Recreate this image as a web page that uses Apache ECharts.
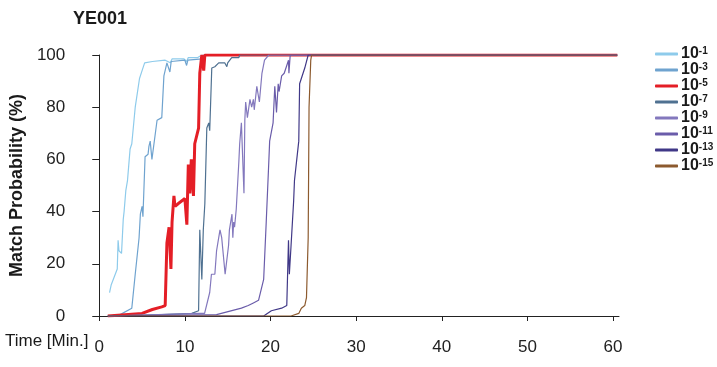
<!DOCTYPE html>
<html>
<head>
<meta charset="utf-8">
<script src="https://cdn.jsdelivr.net/npm/echarts@6/dist/echarts.min.js"></script>
<style>html,body{margin:0;padding:0;background:#fff}#c{width:717px;height:367px}</style>
</head>
<body>
<div id="c"></div>
<script>
const title = 'YE001';
const xTicks = [0, 10, 20, 30, 40, 50, 60];
const yTicks = [0, 20, 40, 60, 80, 100];
const names = ['10^-1', '10^-3', '10^-5', '10^-7', '10^-9', '10^-11', '10^-13', '10^-15'];
const colors = ['#8ecbeb', '#6fa3cf', '#e41e26', '#4f7191', '#8378bd', '#6a5caa', '#403887', '#8c5a2e'];

const s1 = [[1.2,9],[1.4,12],[2.1,18],[2.2,29],[2.3,25],[2.6,24],[2.8,37],[2.9,40],[3.1,48],[3.3,52],[3.5,60],[3.6,64],[3.8,66],[4.2,80],[4.7,91],[5.0,94],[5.3,97],[6.2,97.5],[7.7,98],[8.3,97],[8.5,98.5],[9.9,98.5],[10.2,97.5],[10.4,99],[11.5,99],[12,100],[60.5,100]];
const s3 = [[1,0],[2.4,0.5],[2.7,1],[3.8,3],[4.2,16],[4.65,30],[4.8,39],[5.0,42],[5.1,38],[5.35,61],[5.7,62],[5.8,65],[5.95,67],[6.15,60],[6.75,75],[7.3,76],[7.55,92],[7.9,97],[8.25,93.5],[8.4,97.5],[10,98],[10.2,96],[10.35,98],[12,98.5],[12.2,100],[60.5,100]];
const s5 = [[1,0],[3,0.5],[5,1],[6.2,2.5],[7.3,3.5],[7.7,4],[7.85,4.5],[7.9,28],[8.15,34],[8.37,18],[8.5,36],[8.72,46],[8.85,42],[9.2,43],[10,45],[10.23,35],[10.4,58],[10.58,47],[10.75,60],[11.0,46],[11.15,66],[11.6,72],[11.74,93],[11.98,100],[12.2,94],[12.33,100],[60.5,100]];
const s7 = [[1,0],[7.3,0.5],[10.8,1],[11.6,2],[11.74,33],[11.98,14],[12.15,33],[12.33,43],[12.56,72],[12.79,74],[12.9,71],[13.14,95],[13.5,95.5],[13.95,97],[14.65,97],[14.9,95.5],[15.0,97],[15.47,99],[16.3,99],[16.4,100],[60.5,100]];
const s9 = [[1,0],[11.7,1],[12.3,1],[12.9,9],[13.1,16],[13.5,16],[13.7,25],[14.1,33],[14.3,30],[14.7,16],[14.9,16],[15.1,27],[15.2,33],[15.5,39],[15.6,30],[15.7,36],[15.8,34],[16.0,41],[16.3,59],[16.4,66],[16.6,74],[16.9,47],[17.0,75],[17.1,82],[17.3,76],[17.6,83],[17.8,80],[18.0,83],[18.1,79],[18.4,88],[18.6,84],[18.7,82],[19.0,93],[19.3,98],[19.8,100],[60.5,100]];
const s11 = [[1,0],[13.7,0.5],[16.6,3],[17.4,4],[18.0,5],[18.6,6],[19.2,14],[19.5,36],[19.8,59],[19.9,67],[20.3,74],[20.5,88],[20.7,78],[20.9,89],[21.0,86],[21.3,92],[21.6,93],[21.9,96],[22.1,98],[22.15,93],[22.3,100],[60.5,100]];
const s13 = [[1,0],[19.2,0],[20.1,2],[21.3,3],[21.9,4],[22.1,29],[22.2,16],[22.4,27],[22.7,44],[22.8,52],[23.3,67],[23.4,89],[24.0,95],[24.4,100],[60.5,100]];
const s15 = [[1,0],[22.4,0],[23.3,1],[23.6,3],[24.0,4],[24.2,7],[24.4,30],[24.5,80],[24.7,98],[24.8,100],[60.5,100]];
const allData = [s1, s3, s5, s7, s9, s11, s13, s15];
const widths = [1.2, 1.2, 3, 1.2, 1.2, 1.2, 1.2, 1.2];

const font = 'Liberation Sans';
const chart = echarts.init(document.getElementById('c'), null, {renderer: 'canvas'});
chart.setOption({
  animation: false,
  title: {text: title, left: 68, top: 5, textStyle: {fontFamily: font, fontSize: 18, fontWeight: 'bold', color: '#1a1a1a'}},
  grid: {left: 97, right: 98, top: 55, bottom: 51, containLabel: false},
  xAxis: {
    type: 'value', min: 0, max: 60.7, offset: 9,
    splitLine: {show: false},
    axisLine: {show: true, lineStyle: {color: '#222', width: 1}},
    axisTick: {show: true, length: 5, inside: false, customValues: xTicks, lineStyle: {color: '#222'}},
    axisLabel: {customValues: xTicks, margin: 14, fontFamily: font, fontSize: 17, color: '#222'}
  },
  yAxis: {
    type: 'value', min: 0, max: 100, interval: 20, offset: 22,
    name: 'Match Probability (%)', nameLocation: 'middle', nameGap: 46,
    nameTextStyle: {fontFamily: font, fontSize: 18, fontWeight: 'bold', color: '#1a1a1a'},
    splitLine: {show: false},
    axisLine: {show: true, lineStyle: {color: '#222', width: 1}},
    axisTick: {show: true, length: 7, lineStyle: {color: '#222'}},
    axisLabel: {margin: 12, fontFamily: font, fontSize: 17, color: '#222'}
  },
  legend: {
    orient: 'vertical', left: 650, top: 41, itemWidth: 23, itemHeight: 3, itemGap: 0,
    icon: 'roundRect',
    data: names,
    formatter: function (n) { const p = n.split('^'); return '{a|' + p[0] + '}{b|' + p[1] + '}'; },
    textStyle: {
      color: '#1a1a1a', padding: [0, 0, 0, -2],
      rich: {
        a: {fontFamily: font, fontSize: 16, fontWeight: 'bold', color: '#1a1a1a', lineHeight: 16},
        b: {fontFamily: font, fontSize: 10, fontWeight: 'bold', color: '#1a1a1a', verticalAlign: 'top', lineHeight: 16, padding: [0, 0, 6, 0]}
      }
    }
  },
  graphic: [{type: 'text', left: 5, top: 333, style: {text: 'Time [Min.]', font: '17px ' + font, fill: '#1a1a1a'}}],
  series: names.map((n, i) => ({
    name: n, type: 'line', data: allData[i], showSymbol: false, symbol: 'none',
    lineStyle: {color: colors[i], width: widths[i]}, itemStyle: {color: colors[i]},
    z: 2 + i
  }))
});
</script>
</body>
</html>
